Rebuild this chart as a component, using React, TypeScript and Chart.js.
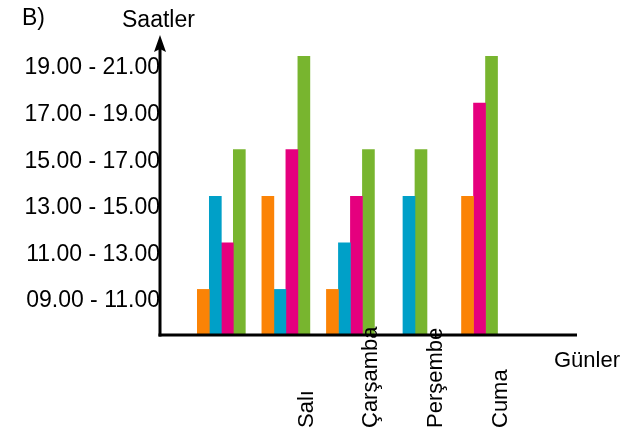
import React, { useEffect, useRef } from "react";
import { Chart, registerables } from "chart.js";

Chart.register(...registerables);

// ---- data ----
const dayIndex = [0, 1, 2, 3, 4];
const xTickLabels = ["", "Salı", "Çarşamba", "Perşembe", "Cuma"];
const yTickValues = [0.75, 1.75, 2.75, 3.75, 4.75, 5.75];
const yTickLabels = [
  "09.00 - 11.00",
  "11.00 - 13.00",
  "13.00 - 15.00",
  "15.00 - 17.00",
  "17.00 - 19.00",
  "19.00 - 21.00",
];
const orangeValues = [1, 3, 1, null, 3];
const blueValues = [3, 1, 2, 3, null];
const magentaValues = [2, 4, 3, null, 5];
const greenValues = [4, 6, 4, 4, 6];

const FONT = "'Liberation Sans', Arial, sans-serif";

const toPoints = (vals: (number | null)[]) =>
  vals.map((v, i) => ({ x: dayIndex[i], y: v }));

const decorPlugin = {
  id: "decor",
  afterDatasetsDraw(chart: any) {
    const { ctx, chartArea } = chart;
    const xs = chart.scales.x;
    const left = chartArea.left;
    const bottom = chartArea.bottom - 1;
    ctx.save();
    ctx.strokeStyle = "#000";
    ctx.fillStyle = "#000";
    ctx.lineWidth = 3;
    // y axis
    ctx.beginPath();
    ctx.moveTo(left, bottom + 1.5);
    ctx.lineTo(left, chartArea.top + 12);
    ctx.stroke();
    // arrow head
    ctx.beginPath();
    ctx.moveTo(left, chartArea.top);
    ctx.lineTo(left - 6, chartArea.top + 17);
    ctx.lineTo(left, chartArea.top + 14);
    ctx.lineTo(left + 6, chartArea.top + 17);
    ctx.closePath();
    ctx.fill();
    // x axis
    ctx.beginPath();
    ctx.moveTo(left - 1.5, bottom);
    ctx.lineTo(chartArea.right, bottom);
    ctx.stroke();

    // texts
    ctx.textBaseline = "alphabetic";
    ctx.textAlign = "left";
    ctx.font = `23px ${FONT}`;
    ctx.fillText("B)", 22, 25);
    ctx.fillText("Saatler", 122, 27);
    ctx.font = `22px ${FONT}`;
    ctx.fillText("Günler", 554, 367);

    // rotated day labels
    ctx.font = `22px ${FONT}`;
    xTickLabels.forEach((lab, i) => {
      if (!lab) return;
      const px = xs.getPixelForValue(dayIndex[i]);
      ctx.save();
      ctx.translate(px + 27, 428);
      ctx.rotate(-Math.PI / 2);
      ctx.textAlign = "left";
      ctx.fillText(lab, 0, 0);
      ctx.restore();
    });
    ctx.restore();
  },
};

export default function App() {
  const ref = useRef<HTMLCanvasElement | null>(null);
  useEffect(() => {
    if (!ref.current) return;
    const common = { barThickness: 12, borderWidth: 0 };
    const chart = new Chart(ref.current, {
      type: "bar",
      data: {
        datasets: [
          { label: "a", data: toPoints(orangeValues), backgroundColor: "#FB8306", ...common },
          { label: "b", data: toPoints(blueValues), backgroundColor: "#00A0C8", ...common },
          { label: "c", data: toPoints(magentaValues), backgroundColor: "#E5007E", ...common },
          { label: "d", data: toPoints(greenValues), backgroundColor: "#78B52F", ...common },
        ] as any,
      },
      options: {
        animation: false,
        responsive: false,
        skipNull: true,
        layout: { padding: { left: 0, right: 62, top: 35, bottom: 104 } },
        plugins: { legend: { display: false }, tooltip: { enabled: false } },
        scales: {
          x: {
            type: "linear",
            display: false,
            offset: false,
            min: -0.95,
            max: 5.51,
            grid: { display: false, offset: false },
          },
          y: {
            type: "linear",
            min: 0,
            max: 6.46,
            grid: { display: false, drawTicks: false },
            border: { display: false },
            afterBuildTicks: (scale: any) => {
              scale.ticks = yTickValues.map((v) => ({ value: v }));
            },
            afterFit: (scale: any) => {
              scale.width = 160;
            },
            ticks: {
              padding: 0,
              color: "#000",
              font: { family: FONT, size: 23 },
              autoSkip: false,
              callback: (_v: any, i: number) => yTickLabels[i],
            },
          },
        },
      } as any,
      plugins: [decorPlugin],
    });
    return () => chart.destroy();
  }, []);
  return (
    <div style={{ position: "fixed", left: 0, top: 0, width: 639, height: 440, background: "#fff" }}>
      <canvas ref={ref} width={639} height={440} style={{ width: 639, height: 440 }} />
    </div>
  );
}
